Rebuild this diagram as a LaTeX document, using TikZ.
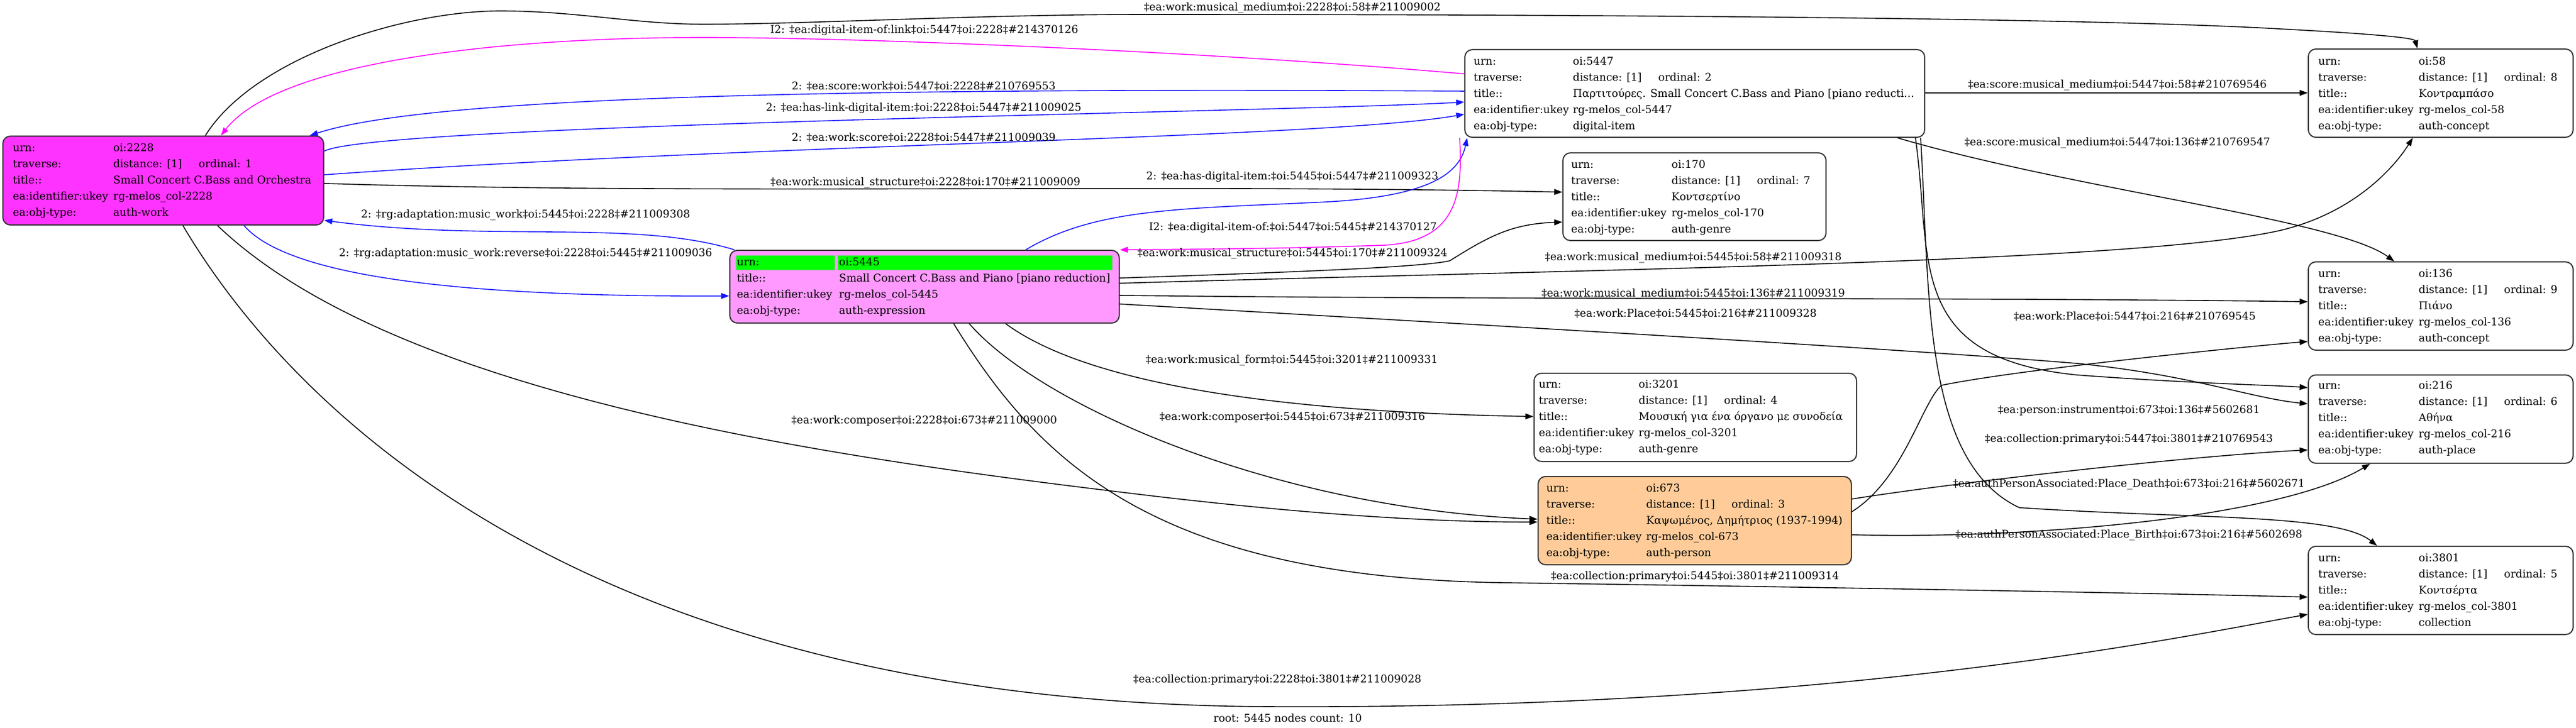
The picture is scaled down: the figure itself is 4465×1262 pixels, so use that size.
\documentclass[tikz,border=0pt]{standalone}
\usepackage{fontspec}
\setmainfont{DejaVu Serif}
\usetikzlibrary{arrows.meta,calc,fit}
\definecolor{nmag}{RGB}{255,51,255}
\definecolor{npink}{RGB}{255,153,255}
\definecolor{npeach}{RGB}{255,204,153}
\definecolor{ngreen}{RGB}{0,255,0}
\definecolor{eblue}{RGB}{20,20,255}
\definecolor{emag}{RGB}{255,0,255}
\newcommand\trav[2]{\makebox[74pt][l]{distance: [#1]}ordinal: #2}
\begin{document}
\begin{tikzpicture}[x=0.5pt,y=-0.5pt,
  every node/.style={font=\fontsize{9.25}{14}\selectfont, inner sep=0pt},
  box/.style={draw=black!80, line width=1pt, rounded corners=6.5pt, inner sep=0pt},
  tbl/.style={anchor=west, align=left},
  lbl/.style={anchor=center},
  e/.style={line width=0.8pt, -{Triangle[length=7pt,width=5pt]}},
  eb/.style={e, draw=eblue},
  em/.style={e, draw=emag}]
\useasboundingbox (0,0) rectangle (4465,1262);

% ---------- nodes ----------
\node[box, fill=nmag, fit={(5,236) (561,390)}] (n2228) {};
\node[tbl] (t2228) at (22,313) {\begin{tabular}{@{}p{87pt}@{}l@{}}
urn: & oi:2228\\ traverse: & \trav{1}{1}\\ title:: & Small Concert C.Bass and Orchestra\\
ea:identifier:ukey & rg-melos\_col-2228\\ ea:obj-type: & auth-work\end{tabular}};

\node[box, fit={(2539,86) (3336,238)}] (n5447) {};
\node[tbl] (t5447) at (2554,163) {\begin{tabular}{@{}p{86pt}@{}l@{}}
urn: & oi:5447\\ traverse: & \trav{1}{2}\\ title:: & Παρτιτούρες. Small Concert C.Bass and Piano [piano reducti...\\
ea:identifier:ukey & rg-melos\_col-5447\\ ea:obj-type: & digital-item\end{tabular}};

\node[box, fit={(2709,265) (3165,417)}] (n170) {};
\node[tbl] (t170) at (2723,342) {\begin{tabular}{@{}p{87pt}@{}l@{}}
urn: & oi:170\\ traverse: & \trav{1}{7}\\ title:: & Κοντσερτίνο\\
ea:identifier:ukey & rg-melos\_col-170\\ ea:obj-type: & auth-genre\end{tabular}};

\node[box, fit={(4001,85) (4460,238)}] (n58) {};
\node[tbl] (t58) at (4018,163) {\begin{tabular}{@{}p{87pt}@{}l@{}}
urn: & oi:58\\ traverse: & \trav{1}{8}\\ title:: & Κοντραμπάσο\\
ea:identifier:ukey & rg-melos\_col-58\\ ea:obj-type: & auth-concept\end{tabular}};

\node[box, fill=npink, fit={(1265,434) (1940,560)}] (n5445) {};
\fill[ngreen] (1276,443) rectangle (1447,468);
\fill[ngreen] (1452,443) rectangle (1928,468);
\node[tbl] (t5445) at (1277,497) {\begin{tabular}{@{}p{88.5pt}@{}l@{}}
urn: & oi:5445\\ title:: & Small Concert C.Bass and Piano [piano reduction]\\
ea:identifier:ukey & rg-melos\_col-5445\\ ea:obj-type: & auth-expression\end{tabular}};

\node[box, fit={(4001,454) (4460,607)}] (n136) {};
\node[tbl] (t136) at (4018,531) {\begin{tabular}{@{}p{87pt}@{}l@{}}
urn: & oi:136\\ traverse: & \trav{1}{9}\\ title:: & Πιάνο\\
ea:identifier:ukey & rg-melos\_col-136\\ ea:obj-type: & auth-concept\end{tabular}};

\node[box, fit={(4001,650) (4460,803)}] (n216) {};
\node[tbl] (t216) at (4018,725) {\begin{tabular}{@{}p{87pt}@{}l@{}}
urn: & oi:216\\ traverse: & \trav{1}{6}\\ title:: & Αθήνα\\
ea:identifier:ukey & rg-melos\_col-216\\ ea:obj-type: & auth-place\end{tabular}};

\node[box, fit={(2659,647) (3218,800)}] (n3201) {};
\node[tbl] (t3201) at (2667,723) {\begin{tabular}{@{}p{86.5pt}@{}l@{}}
urn: & oi:3201\\ traverse: & \trav{1}{4}\\ title:: & Μουσική για ένα όργανο με συνοδεία\\
ea:identifier:ukey & rg-melos\_col-3201\\ ea:obj-type: & auth-genre\end{tabular}};

\node[box, fill=npeach, fit={(2666,826) (3209,979)}] (n673) {};
\node[tbl] (t673) at (2680,903) {\begin{tabular}{@{}p{86.5pt}@{}l@{}}
urn: & oi:673\\ traverse: & \trav{1}{3}\\ title:: & Καψωμένος, Δημήτριος (1937-1994)\\
ea:identifier:ukey & rg-melos\_col-673\\ ea:obj-type: & auth-person\end{tabular}};

\node[box, fit={(4001,947) (4460,1100)}] (n3801) {};
\node[tbl] (t3801) at (4018,1024) {\begin{tabular}{@{}p{87pt}@{}l@{}}
urn: & oi:3801\\ traverse: & \trav{1}{5}\\ title:: & Κοντσέρτα\\
ea:identifier:ukey & rg-melos\_col-3801\\ ea:obj-type: & collection\end{tabular}};

% ---------- edges ----------
\draw[e] (356,0 |- n2228.north) .. controls (440,100) and (700,19) .. (867,19) .. controls (1000,19) and (1100,42) .. (1219,42) .. controls (1400,42) and (1700,25) .. (1985,25) .. controls (2700,25) and (3600,30) .. (3950,50) .. controls (4100,58) and (4185,65) .. (4190,0 |- n58.north);
\draw[em] (n5447.west |- 0,128) .. controls (2100,90) and (1500,65) .. (1219,65) .. controls (850,65) and (480,110) .. (383,0 |- n2228.north);
\draw[eb] (n5447.west |- 0,158) .. controls (1500,152) and (750,165) .. (537,0 |- n2228.north);
\draw[eb] (n2228.east |- 0,262) .. controls (650,215) and (2200,195) .. (n5447.west |- 0,177);
\draw[eb] (n2228.east |- 0,303) .. controls (1300,250) and (2300,240) .. (n5447.west |- 0,198);
\draw[e] (n2228.east |- 0,318) .. controls (1200,338) and (2000,318) .. (n170.west |- 0,333);
\draw[eb] (1778,0 |- n5445.north) .. controls (1900,360) and (2050,362) .. (2300,350) .. controls (2480,340) and (2530,300) .. (2543,0 |- n5447.south);
\draw[em] (2530,0 |- n5447.south) .. controls (2535,330) and (2530,418) .. (2400,425) .. controls (2200,432) and (2050,432) .. (n5445.north east);
\draw[eb] (1273,0 |- n5445.north) .. controls (1100,380) and (850,420) .. (n2228.east |- 0,382);
\draw[eb] (423,0 |- n2228.south) .. controls (500,480) and (800,515) .. (n5445.west |- 0,513);
\draw[e] (n5445.east |- 0,482) .. controls (2300,470) and (2470,462) .. (2513,452) .. controls (2580,410) and (2620,388) .. (n170.west |- 0,385);
\draw[e] (n5445.east |- 0,491) .. controls (2800,466) and (3700,455) .. (3950,400) .. controls (4080,370) and (4150,290) .. (4182,0 |- n58.south);
\draw[e] (n5445.east |- 0,512) .. controls (2600,520) and (3400,515) .. (n136.west |- 0,523);
\draw[e] (n5445.east |- 0,527) .. controls (2600,565) and (3300,605) .. (3600,630) .. controls (3800,650) and (3900,690) .. (n216.west |- 0,700);
\draw[e] (1743,0 |- n5445.south) .. controls (1850,640) and (2100,712) .. (n3201.west |- 0,722);
\draw[e] (1680,0 |- n5445.south) .. controls (1800,700) and (2200,880) .. (n673.west |- 0,900);
\draw[e] (1653,0 |- n5445.south) .. controls (1800,800) and (2000,1000) .. (2600,1010) .. controls (3300,1020) and (3800,1030) .. (n3801.west |- 0,1035);
\draw[e] (377,0 |- n2228.south) .. controls (700,700) and (1500,800) .. (2000,860) .. controls (2300,895) and (2500,905) .. (n673.west |- 0,905);
\draw[e] (317,0 |- n2228.south) .. controls (500,700) and (1000,1220) .. (2200,1225) .. controls (3200,1230) and (3800,1100) .. (n3801.west |- 0,1065);
\draw[e] (n5447.east |- 0,161) -- (n58.west |- 0,161);
\draw[e] (3289,0 |- n5447.south) .. controls (3600,330) and (4050,380) .. (4150,0 |- n136.north);
\draw[e] (3320,0 |- n5447.south) .. controls (3350,450) and (3300,620) .. (3600,650) .. controls (3800,665) and (3950,668) .. (n216.west |- 0,672);
\draw[e] (3329,0 |- n5447.south) .. controls (3345,500) and (3330,800) .. (3500,880) .. controls (3800,900) and (4050,890) .. (4120,0 |- n3801.north);
\draw[e] (n673.east |- 0,887) .. controls (3300,830) and (3330,700) .. (3365,668) .. controls (3500,640) and (3900,600) .. (n136.west |- 0,592);
\draw[e] (n673.east |- 0,865) .. controls (3400,835) and (3800,790) .. (n216.west |- 0,780);
\draw[e] (n673.east |- 0,927) .. controls (3500,935) and (3950,900) .. (4108,0 |- n216.south);

% ---------- edge labels ----------
\node[lbl] (l1) at (2240,14) {‡ea:work:musical\_medium‡oi:2228‡oi:58‡\#211009002};
\node[lbl] (l2) at (1602,53) {I2: ‡ea:digital-item-of:link‡oi:5447‡oi:2228‡\#214370126};
\node[lbl] (l3) at (1601,149) {2: ‡ea:score:work‡oi:5447‡oi:2228‡\#210769553};
\node[lbl] (l4) at (1601,188) {2: ‡ea:has-link-digital-item:‡oi:2228‡oi:5447‡\#211009025};
\node[lbl] (l5) at (1601,238) {2: ‡ea:work:score‡oi:2228‡oi:5447‡\#211009039};
\node[lbl] (l6) at (1604,317) {‡ea:work:musical\_structure‡oi:2228‡oi:170‡\#211009009};
\node[lbl] (l7) at (2240,307) {2: ‡ea:has-digital-item:‡oi:5445‡oi:5447‡\#211009323};
\node[lbl] (l8) at (911,373) {2: ‡rg:adaptation:music\_work‡oi:5445‡oi:2228‡\#211009308};
\node[lbl] (l9) at (2241,395) {I2: ‡ea:digital-item-of:‡oi:5447‡oi:5445‡\#214370127};
\node[lbl] (l10) at (911,440) {2: ‡rg:adaptation:music\_work:reverse‡oi:2228‡oi:5445‡\#211009036};
\node[lbl] (l11) at (2240,440) {‡ea:work:musical\_structure‡oi:5445‡oi:170‡\#211009324};
\node[lbl] (l12) at (2935,447) {‡ea:work:musical\_medium‡oi:5445‡oi:58‡\#211009318};
\node[lbl] (l13) at (2935,510) {‡ea:work:musical\_medium‡oi:5445‡oi:136‡\#211009319};
\node[lbl] (l14) at (2939,543) {‡ea:work:Place‡oi:5445‡oi:216‡\#211009328};
\node[lbl] (l15) at (2239,625) {‡ea:work:musical\_form‡oi:5445‡oi:3201‡\#211009331};
\node[lbl] (l16) at (2240,723) {‡ea:work:composer‡oi:5445‡oi:673‡\#211009316};
\node[lbl] (l17) at (1602,729) {‡ea:work:composer‡oi:2228‡oi:673‡\#211009000};
\node[lbl] (l18) at (2938,1000) {‡ea:collection:primary‡oi:5445‡oi:3801‡\#211009314};
\node[lbl] (l19) at (2214,1179) {‡ea:collection:primary‡oi:2228‡oi:3801‡\#211009028};
\node[lbl] (l20) at (3670,148) {‡ea:score:musical\_medium‡oi:5447‡oi:58‡\#210769546};
\node[lbl] (l21) at (3670,248) {‡ea:score:musical\_medium‡oi:5447‡oi:136‡\#210769547};
\node[lbl] (l22) at (3700,548) {‡ea:work:Place‡oi:5447‡oi:216‡\#210769545};
\node[lbl] (l23) at (3690,712) {‡ea:person:instrument‡oi:673‡oi:136‡\#5602681};
\node[lbl] (l24) at (3690,762) {‡ea:collection:primary‡oi:5447‡oi:3801‡\#210769543};
\node[lbl] (l25) at (3690,840) {‡ea:authPersonAssociated:Place\_Death‡oi:673‡oi:216‡\#5602671};
\node[lbl] (l26) at (3690,928) {‡ea:authPersonAssociated:Place\_Birth‡oi:673‡oi:216‡\#5602698};
\node[lbl] (root) at (2232,1245) {root: 5445 nodes count: 10};
\end{tikzpicture}
\end{document}
